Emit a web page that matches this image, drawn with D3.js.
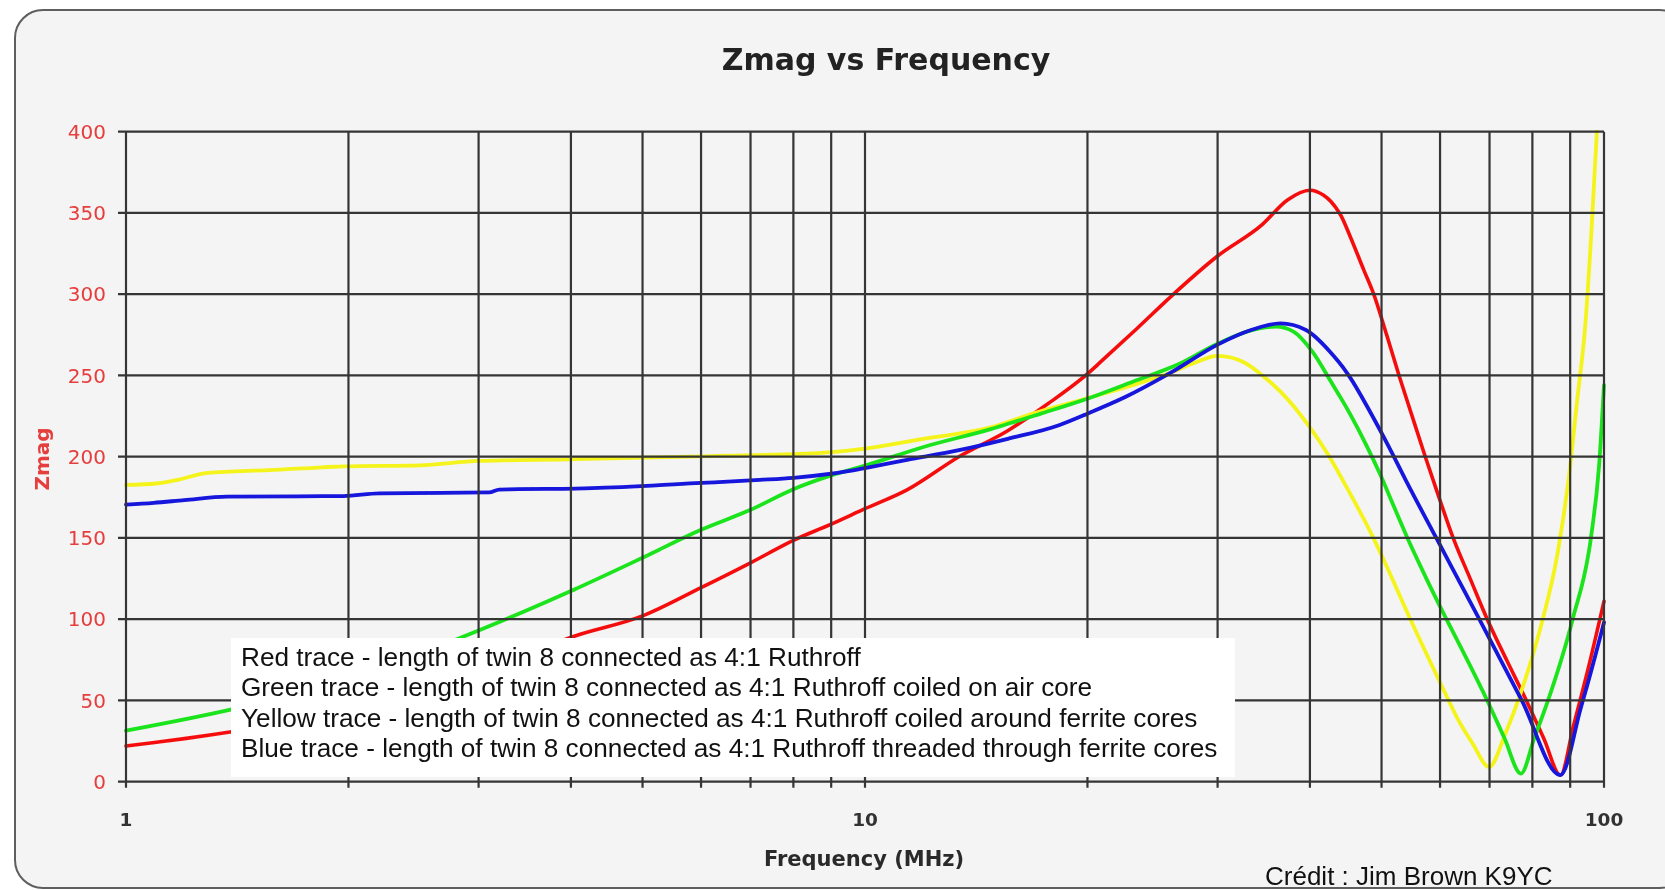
<!DOCTYPE html>
<html>
<head>
<meta charset="utf-8">
<script src="https://cdn.jsdelivr.net/npm/d3@7"></script>
<style>
  html, body { margin: 0; padding: 0; background: #ffffff; }
  svg { display: block; }
</style>
</head>
<body>
<svg id="chart" width="1665" height="890"></svg>
<script>
// Impedance magnitude (ohms) against frequency (MHz) for four baluns
const redFreq = [1, 1.1, 1.2, 1.39, 2, 3, 4.06, 5, 6, 7, 8, 9, 10, 11.4, 13.4, 15.6, 17.7, 20, 20.8, 23.3, 26, 30, 34.5, 37.3, 40, 41.7, 42.7, 44.1, 45.3, 47.3, 48.8, 50.8, 52.8, 55, 57.3, 59.8, 62.5, 65.9, 69.5, 73.8, 78.5, 83, 87.3, 91, 95, 100];
const redZmag = [22, 24.3, 26.5, 30.7, 44, 66, 89.8, 102, 119.4, 134.7, 148.5, 158.5, 168, 179.6, 200, 216, 232.7, 251, 258, 278.6, 299, 323.5, 343, 358, 364, 361, 357, 348, 336, 315, 300, 275, 250, 225, 200, 175, 150, 125, 100, 75, 50, 26, 4, 35, 68, 111];

const greenFreq = [1, 1.39, 2, 3, 4, 5, 6, 7, 8, 9, 10, 12, 14.8, 17.3, 20, 23.3, 26.6, 30, 33.5, 36, 38, 40.4, 42.6, 45.3, 47.7, 49.8, 52, 54.2, 57.5, 61.2, 65.3, 69.5, 73.3, 77.2, 80.5, 84, 90.7, 96, 98.5, 100];
const greenZmag = [31.4, 44.5, 63, 93, 117.3, 137.8, 155, 167.3, 180, 188.5, 194.5, 206, 217, 226.5, 235.7, 247, 257, 269.5, 278, 280, 277, 264, 247, 226.5, 207, 189, 169, 150, 125, 100, 75, 50, 27, 5, 27, 50, 100, 150, 195, 244];

const yellowFreq = [1, 1.1, 1.17, 1.29, 1.56, 1.97, 2.5, 3, 4, 6.2, 8.5, 10, 12, 14.8, 17, 20, 23, 26, 28, 30, 32.6, 34.5, 36.5, 40, 42.5, 45, 48.5, 50.4, 54.7, 60.6, 63.5, 66.4, 69.9, 73.6, 77.6, 82.3, 86.5, 89.5, 92, 94.3, 96.2, 97.8];
const yellowZmag = [182.6, 183.5, 185.6, 190, 191.7, 194, 194.7, 197.4, 198.4, 200.4, 202, 205, 211, 218, 227, 236, 244, 252, 258, 262, 258, 250, 240, 218, 200, 180, 152, 136, 100, 57, 38, 23.5, 9, 30, 58, 97, 140, 185, 235, 280, 340, 400];

const blueFreq = [1, 1.09, 1.2, 1.37, 1.97, 2.2, 3.1, 3.2, 4.27, 5.9, 7.2, 8, 9.4, 10, 11.4, 13.4, 15.6, 18.3, 20, 22.5, 26, 30, 33.3, 36.5, 39.5, 42.7, 45.3, 48.2, 51.3, 54, 59.3, 67.8, 77.4, 87.3, 93.1, 95, 100];
const blueZmag = [170.5, 171.6, 173.3, 175.4, 175.8, 177.4, 178, 179.8, 180.6, 183.7, 185.7, 187, 190.8, 193, 198, 204, 211, 219.4, 226.5, 236.7, 252, 269, 278, 282, 278, 264, 249, 228, 205, 185, 150, 100, 50, 4, 46, 60, 98];

const yTickValues = [0, 50, 100, 150, 200, 250, 300, 350, 400];
const xTickLabels = [1, 10, 100];

const titleText = "Zmag vs Frequency";
const xAxisTitle = "Frequency (MHz)";
const yAxisTitle = "Zmag";
const legendLines = [
  "Red trace - length of twin 8 connected as 4:1 Ruthroff",
  "Green trace - length of twin 8 connected as 4:1 Ruthroff coiled on air core",
  "Yellow trace - length of twin 8 connected as 4:1 Ruthroff coiled around ferrite cores",
  "Blue trace - length of twin 8 connected as 4:1 Ruthroff threaded through ferrite cores"
];
const creditText = "Crédit : Jim Brown K9YC";

// Drawing order: blue ends up on top of the other traces
const series = [
  { freq: redFreq,    zmag: redZmag,    color: "#f51010", width: 3.6 },
  { freq: yellowFreq, zmag: yellowZmag, color: "#f4f41a", width: 3.8 },
  { freq: greenFreq,  zmag: greenZmag,  color: "#1be41b", width: 3.8 },
  { freq: blueFreq,   zmag: blueZmag,   color: "#1414dc", width: 3.8 }
];

const svg = d3.select("#chart");
const plot = { left: 126, right: 1604, top: 131.7, bottom: 781.7 };

const x = d3.scaleLog().domain([1, 100]).range([plot.left, plot.right]);
const y = d3.scaleLinear().domain([0, 400]).range([plot.bottom, plot.top]);

const defs = svg.append("defs");
defs.append("filter").attr("id", "soft")
  .attr("x", "-5%").attr("y", "-5%").attr("width", "110%").attr("height", "110%")
  .append("feGaussianBlur").attr("stdDeviation", 0.5);

// Rounded panel behind the chart
svg.append("rect")
  .attr("x", 15).attr("y", 10)
  .attr("width", 1673).attr("height", 878)
  .attr("rx", 28).attr("ry", 28)
  .attr("fill", "#f4f4f4")
  .attr("stroke", "#5e5e5e")
  .attr("stroke-width", 2);

const chart = svg.append("g").attr("filter", "url(#soft)");

// Traces
const line = d3.line()
  .x(d => x(d[0]))
  .y(d => y(d[1]))
  .curve(d3.curveMonotoneX);

chart.append("g").selectAll("path")
  .data(series)
  .join("path")
  .attr("d", s => line(s.freq.map((f, i) => [f, s.zmag[i]])))
  .attr("fill", "none")
  .attr("stroke", s => s.color)
  .attr("stroke-width", s => s.width)
  .attr("stroke-linejoin", "round")
  .attr("stroke-linecap", "round");

// Grid drawn over the traces
const gridColor = "#343434";
const grid = chart.append("g");
grid.selectAll("line.v")
  .data(x.ticks())
  .join("line")
  .attr("class", "v")
  .attr("x1", d => x(d)).attr("x2", d => x(d))
  .attr("y1", plot.top).attr("y2", plot.bottom + 6)
  .attr("stroke", gridColor).attr("stroke-width", 2.2);
grid.selectAll("line.h")
  .data(yTickValues)
  .join("line")
  .attr("class", "h")
  .attr("x1", plot.left - 8).attr("x2", plot.right)
  .attr("y1", d => y(d)).attr("y2", d => y(d))
  .attr("stroke", gridColor).attr("stroke-width", 2.2);

// Y axis labels
chart.append("g").selectAll("text")
  .data(yTickValues)
  .join("text")
  .attr("x", 106)
  .attr("y", d => y(d))
  .attr("dy", "0.36em")
  .attr("text-anchor", "end")
  .attr("font-family", "DejaVu Sans")
  .attr("font-size", 20)
  .attr("fill", "#e63c3c")
  .text(d => d);

// X axis labels
chart.append("g").selectAll("text")
  .data(xTickLabels)
  .join("text")
  .attr("x", d => x(d))
  .attr("y", 826)
  .attr("text-anchor", "middle")
  .attr("font-family", "DejaVu Sans")
  .attr("font-weight", "bold")
  .attr("font-size", 18.5)
  .attr("fill", "#333333")
  .text(d => d);

// Titles
chart.append("text")
  .attr("x", 886).attr("y", 70)
  .attr("text-anchor", "middle")
  .attr("font-family", "DejaVu Sans")
  .attr("font-weight", "bold")
  .attr("font-size", 30)
  .attr("fill", "#222222")
  .text(titleText);

chart.append("text")
  .attr("x", 864).attr("y", 866)
  .attr("text-anchor", "middle")
  .attr("font-family", "DejaVu Sans")
  .attr("font-weight", "bold")
  .attr("font-size", 21)
  .attr("fill", "#2a2a2a")
  .text(xAxisTitle);

chart.append("text")
  .attr("transform", "translate(49,459) rotate(-90)")
  .attr("text-anchor", "middle")
  .attr("font-family", "DejaVu Sans")
  .attr("font-weight", "bold")
  .attr("font-size", 20)
  .attr("fill", "#e63c3c")
  .text(yAxisTitle);

// Legend box
const legend = svg.append("g");
legend.append("rect")
  .attr("x", 231).attr("y", 638)
  .attr("width", 1004).attr("height", 139)
  .attr("fill", "#ffffff");
legend.selectAll("text")
  .data(legendLines)
  .join("text")
  .attr("x", 241)
  .attr("y", (d, i) => 666 + i * 30.4)
  .attr("font-family", "Liberation Sans, Arial, sans-serif")
  .attr("font-size", 26.2)
  .attr("fill", "#111111")
  .text(d => d);

// Credit line
svg.append("text")
  .attr("x", 1265).attr("y", 885)
  .attr("font-family", "Liberation Sans, Arial, sans-serif")
  .attr("font-size", 26)
  .attr("fill", "#111111")
  .text(creditText);
</script>
</body>
</html>
